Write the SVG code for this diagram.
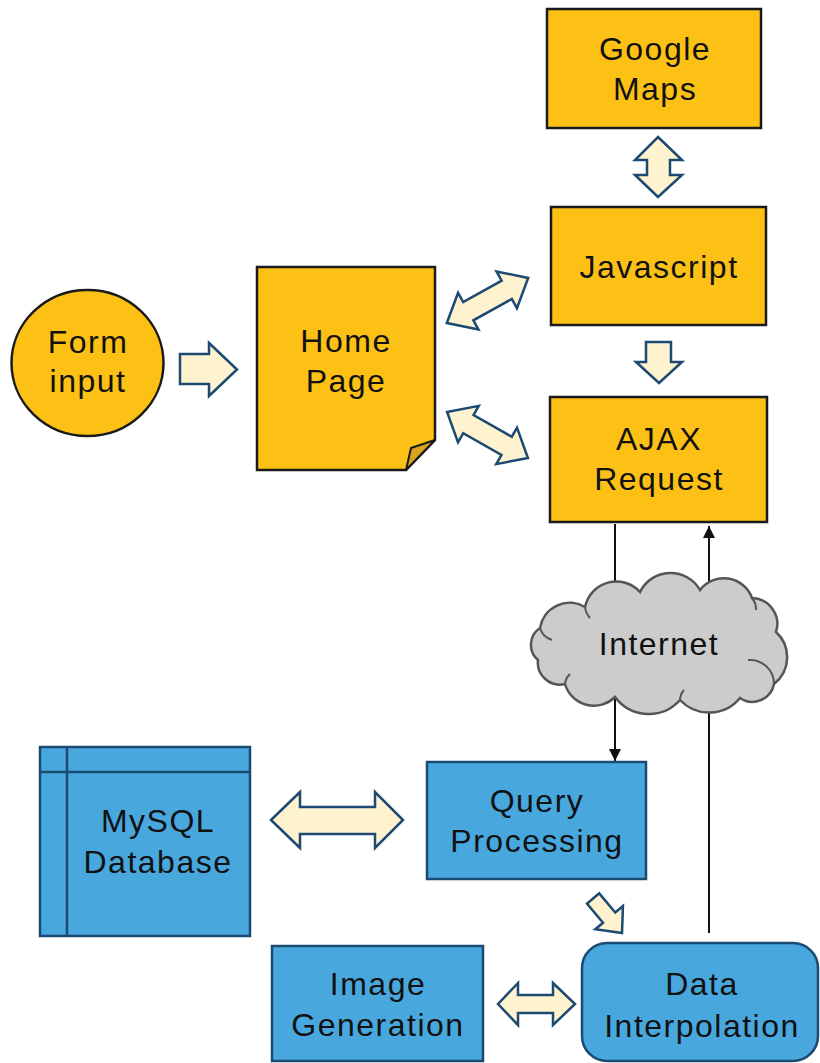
<svg xmlns="http://www.w3.org/2000/svg" width="820" height="1063" viewBox="0 0 820 1063">
<style>
  .t{font-family:"Liberation Sans",Arial,sans-serif;font-size:32px;letter-spacing:1.5px;fill:#111;text-anchor:middle}
  .or{fill:#fdc116;stroke:#1a1a1a;stroke-width:2.5}
  .bl{fill:#48a8de;stroke:#1b4a72;stroke-width:2.5}
  .ba{fill:#fff2cf;stroke:#1c4a72;stroke-width:2.5;stroke-linejoin:miter}
  .cn{fill:none;stroke:#111;stroke-width:2}
</style>
<defs>
  <marker id="ah" markerWidth="12" markerHeight="16" refX="12" refY="8" orient="auto" markerUnits="userSpaceOnUse">
    <path d="M0,2 L12,8 L0,14 Z" fill="#111"/>
  </marker>
</defs>
<rect width="820" height="1063" fill="#fff"/>

<g id="connectors">
  <line class="cn" x1="615" y1="524" x2="615" y2="761" marker-end="url(#ah)"/>
  <line class="cn" x1="709" y1="933" x2="709" y2="526" marker-end="url(#ah)"/>
</g>

<g id="arrows">
  <path class="ba" d="M658,137 L682,160 L670,160 L670,175 L682,175 L658,197 L635,175 L647,175 L647,160 L635,160 Z"/>
  <path class="ba" d="M180,354 L209,354 L209,343 L237,369.5 L209,396 L209,384 L180,384 Z"/>
  <path class="ba" d="M646,342 L671,342 L671,362 L682,362 L659,383 L636,362 L646,362 Z"/>
  <path class="ba" transform="translate(487.5,300.5) rotate(-29)" d="M-46.5,0 L-22,-21 L-22,-10.5 L22,-10.5 L22,-21 L46.5,0 L22,21 L22,10.5 L-22,10.5 L-22,21 Z"/>
  <path class="ba" transform="translate(487.5,435) rotate(29.6)" d="M-46.5,0 L-22,-21 L-22,-10.5 L22,-10.5 L22,-21 L46.5,0 L22,21 L22,10.5 L-22,10.5 L-22,21 Z"/>
  <path class="ba" d="M271,820 L300,792 L300,807 L375,807 L375,792 L403,820 L375,848 L375,834 L300,834 L300,848 Z"/>
  <path class="ba" d="M498,1004 L518,983 L518,995 L553,995 L553,983 L575,1004 L553,1025 L553,1013 L518,1013 L518,1025 Z"/>
  <path class="ba" transform="translate(622,933) rotate(50)" d="M-45,-8 L-20,-8 L-20,-18 L0,0 L-20,18 L-20,8 L-45,8 Z"/>
</g>

<g id="google-maps">
  <rect class="or" x="547" y="9" width="214" height="119"/>
  <text class="t" x="655" y="60">Google</text>
  <text class="t" x="655" y="100">Maps</text>
</g>

<g id="javascript">
  <rect class="or" x="551" y="207" width="215" height="118"/>
  <text class="t" x="659" y="278">Javascript</text>
</g>

<g id="form-input">
  <ellipse class="or" cx="87.5" cy="363" rx="76" ry="73"/>
  <text class="t" x="88" y="353">Form</text>
  <text class="t" x="88" y="392">input</text>
</g>

<g id="home-page">
  <path class="or" d="M257,267 H435 V440 L406,470 H257 Z"/>
  <path d="M406,470 L411,448 L435,440 Z" fill="#d9a320" stroke="#1a1a1a" stroke-width="2" stroke-linejoin="round"/>
  <text class="t" x="346" y="352">Home</text>
  <text class="t" x="346" y="392">Page</text>
</g>

<g id="ajax-request">
  <rect class="or" x="550" y="397" width="217" height="125"/>
  <text class="t" x="659" y="450">AJAX</text>
  <text class="t" x="659" y="490">Request</text>
</g>

<g id="internet">
  <path fill="#cccccc" stroke="#555" stroke-width="2.5" d="M540,628 A30,30 0 0 1 585,607 A32,32 0 0 1 640,592 A34,34 0 0 1 700,590 A30,30 0 0 1 752,598 A26,26 0 0 1 776,632 A34,34 0 0 1 774,684 A22,22 0 0 1 740,698 A40,40 0 0 1 680,700 A42,42 0 0 1 615,697 A30,30 0 0 1 565,684 A22,22 0 0 1 538,660 A20,20 0 0 1 540,628 Z"/>
  <path fill="none" stroke="#555" stroke-width="2" d="M540,628 A18,18 0 0 0 552,640 M585,607 A20,20 0 0 0 590,618 M752,598 A18,18 0 0 1 756,610 M774,684 A24,24 0 0 0 748,660 M565,684 A16,16 0 0 1 570,674 M680,700 A16,16 0 0 1 684,690"/>
  <text class="t" x="659" y="655">Internet</text>
</g>

<g id="mysql-database">
  <rect class="bl" x="40" y="747" width="210" height="189"/>
  <line x1="67" y1="747" x2="67" y2="936" stroke="#1b4a72" stroke-width="2.5"/>
  <line x1="40" y1="772" x2="250" y2="772" stroke="#1b4a72" stroke-width="2.5"/>
  <text class="t" x="158" y="832">MySQL</text>
  <text class="t" x="158" y="873">Database</text>
</g>

<g id="query-processing">
  <rect class="bl" x="427" y="762" width="219" height="117"/>
  <text class="t" x="537" y="812">Query</text>
  <text class="t" x="537" y="852">Processing</text>
</g>

<g id="image-generation">
  <rect class="bl" x="272" y="946" width="211" height="115"/>
  <text class="t" x="378" y="995">Image</text>
  <text class="t" x="378" y="1036">Generation</text>
</g>

<g id="data-interpolation">
  <rect class="bl" x="582" y="943" width="236" height="118" rx="25" ry="25"/>
  <text class="t" x="702" y="995">Data</text>
  <text class="t" x="702" y="1037">Interpolation</text>
</g>
</svg>
